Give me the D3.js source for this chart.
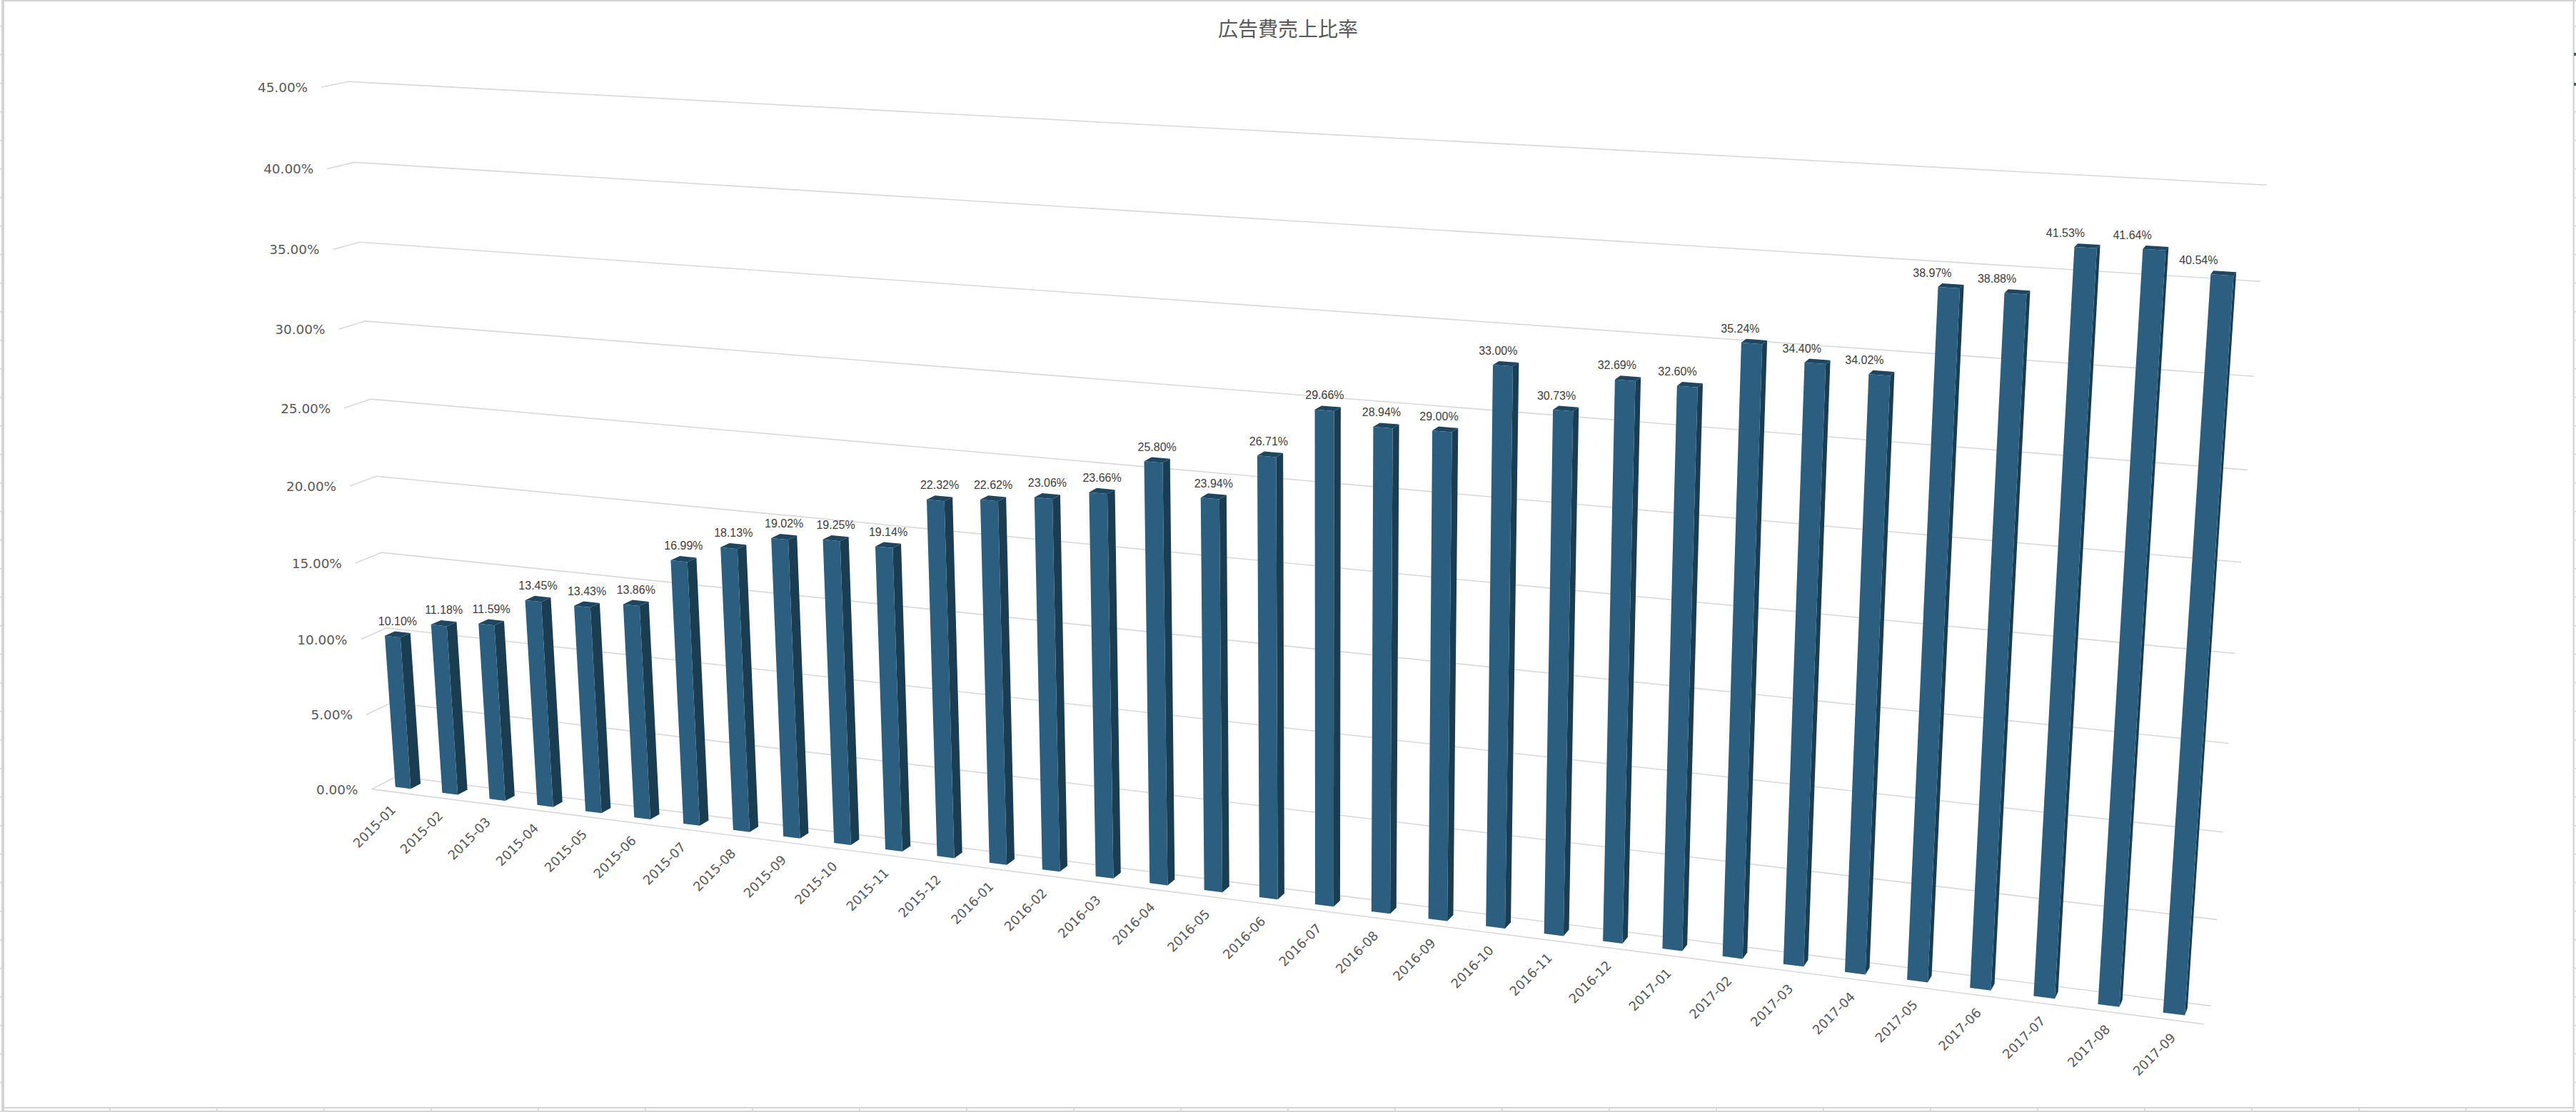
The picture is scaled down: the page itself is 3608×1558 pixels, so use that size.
<!DOCTYPE html>
<html><head><meta charset="utf-8">
<script src="https://cdn.jsdelivr.net/npm/d3@7"></script>
<style>html,body{margin:0;padding:0;background:#fff}svg{display:block}</style>
</head><body><svg id="c" width="3608" height="1558"></svg>
<script>
const months = ["2015-01","2015-02","2015-03","2015-04","2015-05","2015-06","2015-07","2015-08","2015-09","2015-10","2015-11","2015-12",
"2016-01","2016-02","2016-03","2016-04","2016-05","2016-06","2016-07","2016-08","2016-09","2016-10","2016-11","2016-12",
"2017-01","2017-02","2017-03","2017-04","2017-05","2017-06","2017-07","2017-08","2017-09"];
const ratios = [10.10,11.18,11.59,13.45,13.43,13.86,16.99,18.13,19.02,19.25,19.14,22.32,22.62,23.06,23.66,25.80,23.94,26.71,29.66,28.94,29.00,33.00,30.73,32.69,32.60,35.24,34.40,34.02,38.97,38.88,41.53,41.64,40.54];
const yTicks = [0,5,10,15,20,25,30,35,40,45];
const title = "広告費売上比率";

// Camera: least-squares projective fit of the chart box's corners (u,v,w in 0..1)
const corners = [
 [0,0,0, 520,1105.3],[1,0,0, 3087.4,1435],[0,1,0, 450.5,122.3],
 [0,0,1, 556.5,1088],[1,0,1, 3096.6,1409.3],[0,1,1, 487.8,114],[1,1,1, 3175,259.3]];
function fitCamera(pts){
  const rows=[],rhs=[];
  for(const [u,v,w,x,y] of pts){
    rows.push([u,v,w,1,0,0,0,0,-x*u,-x*v,-x*w]);rhs.push(x);
    rows.push([0,0,0,0,u,v,w,1,-y*u,-y*v,-y*w]);rhs.push(y);
  }
  const n=11,A=d3.range(n).map(i=>d3.range(n+1).map(j=>{
    let s=0;rows.forEach((r,k)=>{s+=r[i]*(j<n?r[j]:rhs[k]);});return s;}));
  for(let i=0;i<n;i++){
    let p=i;for(let k=i+1;k<n;k++)if(Math.abs(A[k][i])>Math.abs(A[p][i]))p=k;
    [A[i],A[p]]=[A[p],A[i]];
    for(let k=0;k<n;k++)if(k!==i){const f=A[k][i]/A[i][i];for(let j=i;j<=n;j++)A[k][j]-=f*A[i][j];}
  }
  return d3.range(n).map(i=>A[i][n]/A[i][i]);
}
const m=fitCamera(corners);
const project=(u,v,w)=>{const d=m[8]*u+m[9]*v+m[10]*w+1;
  return [(m[0]*u+m[1]*v+m[2]*w+m[3])/d,(m[4]*u+m[5]*v+m[6]*w+m[7])/d];};

const xBand=d3.scaleBand().domain(months).range([0,1]).paddingInner(0.67).paddingOuter(0.33);
const yVal=d3.scaleLinear().domain([0,45]).range([0,1]);
const wFront=0.33,wBack=0.72;

const svg=d3.select("#c");
const line=d3.line();
const GRID="#d9d9d9",TXT="#595959",SHEET="#d4d4d4";

// spreadsheet frame behind the chart
const sheet=svg.append("g").attr("fill",SHEET);
const bar=(x,y,w,h,fill)=>sheet.append("rect").attr("x",x).attr("y",y).attr("width",w).attr("height",h).attr("fill",fill||SHEET);
bar(2,0,4,1558);bar(5,0,3603,2);bar(3603.5,0,2.3,1553);bar(6,1551,3600,2);bar(4,1556,3604,2);
d3.range(3,3608,150).forEach(x=>bar(x,1553,1.6,3));
d3.range(36.7,1558,40).forEach(y=>{bar(0,y-0.8,2,1.6);bar(3605.8,y-0.8,2.2,1.6);});
[76,118].forEach(y=>bar(3605,y-2,3,4,"#3a6b4e"));

// gridlines: side wall and back wall, plus the floor's front edge
const grid=svg.append("g").attr("fill","none").attr("stroke",GRID).attr("stroke-width",1.6);
yTicks.forEach(t=>{const v=yVal(t);
  grid.append("path").attr("d",line([project(0,v,0),project(0,v,1),project(1,v,1)]));});
grid.append("path").attr("d",line([project(0,0,0),project(1,0,0)]));

svg.append("g").selectAll("text").data(yTicks).join("text")
 .attr("x",d=>project(0,yVal(d),0)[0]-19).attr("y",d=>project(0,yVal(d),0)[1]+2)
 .attr("text-anchor","end").attr("dominant-baseline","middle")
 .attr("font-family","DejaVu Sans").attr("font-size",18.4).attr("fill",TXT)
 .text(d=>d.toFixed(2)+"%");

const FRONT="#2c5f7f",SIDE="#1b3d52",TOP="#1f4660";
const rowsData=months.map((c,i)=>({c,val:ratios[i]}));
const bars=svg.append("g").selectAll("g").data(rowsData).join("g");
const poly=pts=>line(pts)+"Z";
bars.each(function(d){
  const u0=xBand(d.c),u1=u0+xBand.bandwidth(),v=yVal(d.val),g=d3.select(this);
  g.append("path").attr("fill",SIDE).attr("d",poly([project(u1,0,wFront),project(u1,0,wBack),project(u1,v,wBack),project(u1,v,wFront)]));
  g.append("path").attr("fill",TOP).attr("d",poly([project(u0,v,wFront),project(u1,v,wFront),project(u1,v,wBack),project(u0,v,wBack)]));
  g.append("path").attr("fill",FRONT).attr("d",poly([project(u0,0,wFront),project(u1,0,wFront),project(u1,v,wFront),project(u0,v,wFront)]));
});

// value labels drift left of their bars on the right half, as in the reference
const labelDrift=u=>-36*Math.max(0,(u-0.5)/0.5);
svg.append("g").selectAll("text").data(rowsData).join("text")
 .each(function(d){
   const u=xBand(d.c)+xBand.bandwidth()/2,p=project(u,yVal(d.val),(wFront+wBack)/2);
   d3.select(this).attr("x",p[0]+labelDrift(u)).attr("y",p[1]-17);
 })
 .attr("text-anchor","middle").attr("dominant-baseline","middle")
 .attr("font-family","Liberation Sans").attr("font-size",16).attr("fill","#404040")
 .text(d=>d.val.toFixed(2)+"%");

svg.append("g").selectAll("text").data(months).join("text")
 .attr("transform",d=>{const u=xBand(d)+xBand.bandwidth()/2,p=project(u,0,0);return `translate(${p[0]-1+4.5*u},${p[1]+22.5}) rotate(-45)`;})
 .attr("text-anchor","end").attr("dominant-baseline","middle")
 .attr("font-family","DejaVu Sans").attr("font-size",18).attr("fill",TXT)
 .text(d=>d);

svg.append("text").attr("x",1804).attr("y",43).attr("text-anchor","middle").attr("dominant-baseline","middle")
 .attr("font-family","Noto Sans CJK JP").attr("font-size",28).attr("fill",TXT).text(title);
</script></body></html>
